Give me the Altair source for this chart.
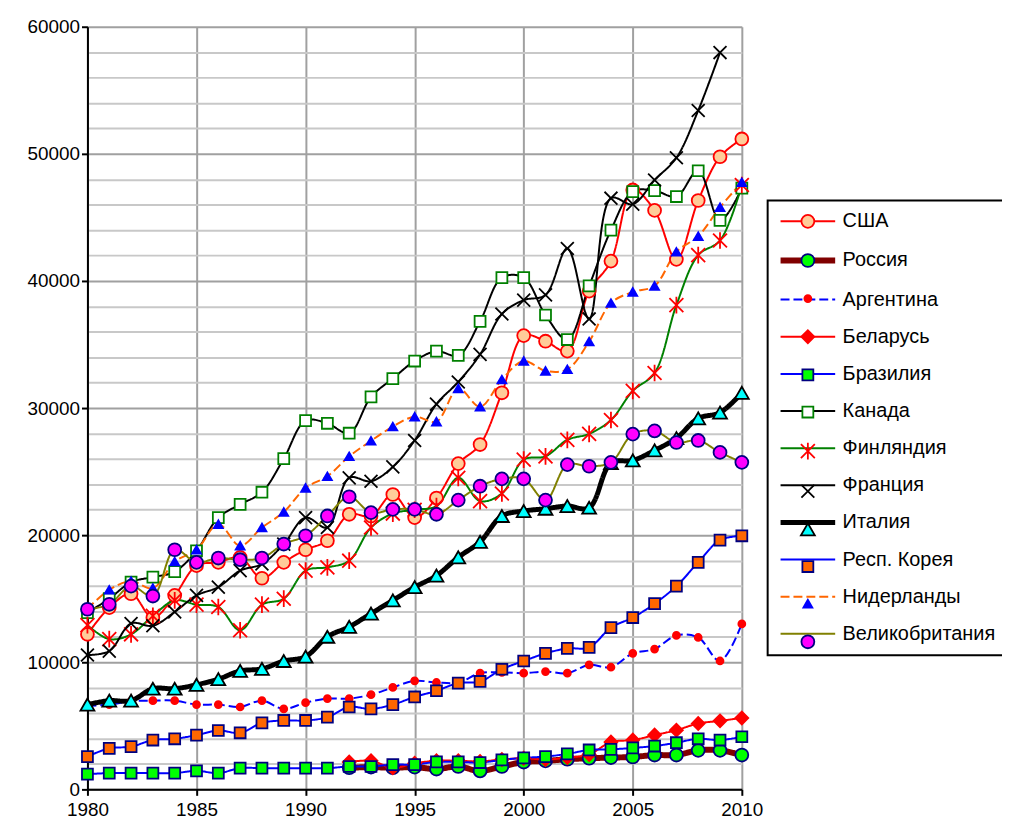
import altair as alt
import pandas as pd

years = list(range(1980, 2011))
series_names = ["США", "Россия", "Аргентина", "Беларусь", "Бразилия", "Канада",
                "Финляндия", "Франция", "Италия", "Респ. Корея", "Нидерланды",
                "Великобритания"]

usa = [12200, 14300, 15390, 13500, 15260, 17600, 17860, 18250, 16610, 17860,
       18850, 19560, 21640, 21500, 23200, 21380, 22920, 25630, 27130, 31200,
       35700, 35260, 34480, 39200, 41560, 47160, 45550, 41700, 46330, 49770, 51170]
russia = [None] * 12 + [1700, 1750, 1700, 1750, 1600, 1800, 1450, 1800, 2150,
                        2240, 2370, 2450, 2500, 2550, 2700, 2700, 3070, 3070, 2700]
argentina = [6560, 6670, 6930, 6980, 6980, 6670, 6670, 6480, 6980, 6330,
             6820, 7140, 7140, 7450, 8020, 8540, 8410, 8400, 9140, 9200,
             9140, 9270, 9140, 9790, 9610, 10700, 11040, 12110, 11950, 10100, 13020]
belarus = [None] * 12 + [2150, 2250, 1700, 2050, 2250, 2250, 2200, 2350, 2450,
                         2350, 2500, 2750, 3720, 3880, 4270, 4660, 5180, 5390, 5620]
brazil = [1200, 1280, 1280, 1280, 1280, 1460, 1280, 1670, 1670, 1670,
          1670, 1670, 1800, 1800, 1950, 1950, 2160, 2160, 2110, 2320,
          2480, 2580, 2790, 3100, 3150, 3260, 3410, 3670, 3980, 3880, 4140]
canada = [13900, 15000, 16300, 16700, 17130, 18770, 21380, 22420, 23380, 26020,
          29010, 28800, 28020, 30880, 32320, 33700, 34480, 34140, 36820, 40260,
          40260, 37320, 35390, 39610, 44000, 47030, 47110, 46640, 48670, 44770, 47300]
finland = [12920, 11820, 12200, 13650, 14870, 14530, 14350, 12520, 14530, 15000,
           17210, 17470, 17990, 20600, 21700, 22000, 22290, 24510, 22680, 23280,
           25940, 26200, 27500, 27970, 29060, 31350, 32760, 38100, 42030, 43180, 47550]
france = [10570, 10880, 13050, 12870, 13960, 15260, 15910, 17210, 17730, 19300,
          21380, 20600, 24510, 24240, 25370, 27450, 30310, 32050, 34220, 37400,
          38490, 38900, 42550, 37010, 46510, 46040, 47940, 49690, 53410, 57970, None]
italy = [6670, 6980, 6980, 7920, 7920, 8230, 8670, 9320, 9480, 10100,
         10440, 12010, 12790, 13830, 14870, 15910, 16820, 18260, 19480, 21510,
         21900, 22080, 22290, 22160, 25680, 25880, 26670, 27630, 29190, 29640, 31200]
korea = [2580, 3230, 3360, 3880, 3980, 4270, 4630, 4450, 5230, 5420,
         5420, 5680, 6480, 6330, 6670, 7270, 7760, 8360, 8490, 9450,
         10100, 10700, 11090, 11170, 12730, 13520, 14610, 15990, 17860, 19610, 19950]
netherlands = [14200, 15700, 16380, 15830, 17920, 18850, 20860, 19170, 20600, 21820,
               23720, 24630, 26200, 27420, 28540, 29320, 28930, 31540, 30100, 32240,
               33700, 32920, 33050, 35230, 38260, 39140, 39610, 42290, 43520, 45800, 47760]
uk = [14170, 14560, 15990, 15210, 18850, 17860, 18200, 18070, 18200, 19300,
      19950, 21510, 23020, 21770, 22030, 22030, 21640, 22760, 23850, 24430,
      24430, 22760, 25550, 25420, 25730, 27950, 28200, 27290, 27450, 26510, 25730]

all_values = [usa, russia, argentina, belarus, brazil, canada, finland, france,
              italy, korea, netherlands, uk]

x_ticks = [1980, 1985, 1990, 1995, 2000, 2005, 2010]
y_ticks = list(range(0, 60001, 2000))

# styles
line_colors = ["#FF0000", "#800000", "#0000FF", "#FF0000", "#0000FF", "#000000",
               "#008000", "#000000", "#000000", "#0000FF", "#FF6600", "#808000"]
line_widths = [2, 6, 2, 2, 2, 2, 2, 2, 5, 2, 2, 2]
line_dashes = [[1, 0], [1, 0], [9, 4], [1, 0], [1, 0], [1, 0], [1, 0], [1, 0],
               [1, 0], [1, 0], [9, 4], [1, 0]]
ASTERISK = "M-1,-1L1,1M1,-1L-1,1M0,-1.2L0,1.2"
XMARK = "M-1,-1L1,1M1,-1L-1,1"
LEGEND_LINE = "M-5,0L5,0"
marker_shapes = ["circle", "circle", "circle", "diamond", "square", "square",
                 ASTERISK, XMARK, "triangle-up", "square", "triangle-up", "circle"]
marker_fills = ["#FFCC99", "#00FF00", "#FF0000", "#FF0000", "#00FF00", "#FFFFFF",
                "transparent", "transparent", "#00FFFF", "#FF6600", "#0000FF", "#FF00FF"]
marker_strokes = ["#FF0000", "#000080", "#FF0000", "#FF0000", "#000080", "#008000",
                  "#FF0000", "#000000", "#000000", "#000080", "#0000FF", "#000080"]
marker_sizes = [169, 169, 49, 169, 121, 121, 196, 169, 196, 121, 81, 169]

rows = []
for i, (name, vals) in enumerate(zip(series_names, all_values)):
    for y, v in zip(years, vals):
        if v is not None:
            rows.append({"year": y, "value": v, "series": name, "idx": i})
df = pd.DataFrame(rows)

FONT = "Liberation Sans"

major = "datum.value % 10000 === 0"
x_axis = alt.Axis(values=x_ticks, format="d", grid=True, gridColor="#A0A0A0",
                  gridWidth=2, domainColor="black", domainWidth=2,
                  tickColor="black", tickSize=6, tickWidth=2,
                  labelFontSize=19, labelPadding=5, labelFlush=False,
                  labelColor="black", labelFont=FONT, title=None)
y_axis = alt.Axis(values=y_ticks, format="d",
                  labelExpr="datum.value % 10000 === 0 ? datum.label : ''",
                  gridColor={"condition": {"test": major, "value": "#A0A0A0"},
                             "value": "#C8C8C8"},
                  gridWidth=2,
                  tickColor={"condition": {"test": major, "value": "black"},
                             "value": "transparent"},
                  tickSize=6, tickWidth=2, domainColor="black", domainWidth=2,
                  labelFontSize=19, labelPadding=2, labelOverlap=False,
                  labelColor="black", labelFont=FONT, title=None)

x_enc = alt.X("year:Q", scale=alt.Scale(domain=[1980, 2010], nice=False, zero=False),
              axis=x_axis)
y_enc = alt.Y("value:Q", scale=alt.Scale(domain=[0, 60000], nice=False), axis=y_axis)

LX, LY = 685, 175
line_legend = alt.Legend(orient="none", legendX=LX, legendY=LY, title=None,
                         symbolType=LEGEND_LINE, symbolSize=121, symbolOffset=19.5,
                         labelOffset=25, labelFontSize=20, labelFont=FONT,
                         labelColor="black", rowPadding=17.4, padding=11,
                         strokeColor="black", fillColor="white", labelLimit=400)
marker_legend = alt.Legend(orient="none", legendX=LX, legendY=LY, title=None,
                           symbolOffset=19.5, labelOffset=25, labelFontSize=20,
                           labelFont=FONT, rowPadding=17.4, padding=11,
                           labelOpacity=0, labelLimit=400, symbolStrokeWidth=1.8,
                           symbolOpacity=1)

lines = alt.Chart(df).mark_line(interpolate="catmull-rom").encode(
    x=x_enc, y=y_enc,
    stroke=alt.Stroke("series:N", scale=alt.Scale(domain=series_names, range=line_colors),
                      legend=line_legend),
    strokeWidth=alt.StrokeWidth("series:N",
                                scale=alt.Scale(type="ordinal", domain=series_names,
                                                range=line_widths),
                                legend=line_legend),
    strokeDash=alt.StrokeDash("series:N",
                              scale=alt.Scale(domain=series_names, range=line_dashes),
                              legend=line_legend),
    order=alt.Order("year:Q"),
)

points = alt.Chart(df).mark_point(opacity=1, strokeWidth=1.8).encode(
    x=x_enc, y=y_enc,
    fill=alt.Fill("series:N", scale=alt.Scale(domain=series_names, range=marker_fills),
                  legend=marker_legend),
    stroke=alt.Stroke("series:N", scale=alt.Scale(domain=series_names, range=marker_strokes),
                      legend=marker_legend),
    shape=alt.Shape("series:N", scale=alt.Scale(domain=series_names, range=marker_shapes),
                    legend=marker_legend),
    size=alt.Size("series:N", scale=alt.Scale(type="ordinal", domain=series_names,
                                              range=marker_sizes),
                  legend=marker_legend),
)

chart = alt.layer(lines, points).resolve_scale(
    stroke="independent", strokeWidth="independent", strokeDash="independent",
    fill="independent", shape="independent", size="independent",
).properties(
    width=659, height=768,
    autosize=alt.AutoSizeParams(type="none"),
    padding={"left": 80, "top": 16, "right": 262, "bottom": 31},
).configure(font=FONT).configure_view(stroke=None).configure_legend(strokeWidth=2)

chart.save("out.html", embed_options={"renderer": "svg", "actions": False})
